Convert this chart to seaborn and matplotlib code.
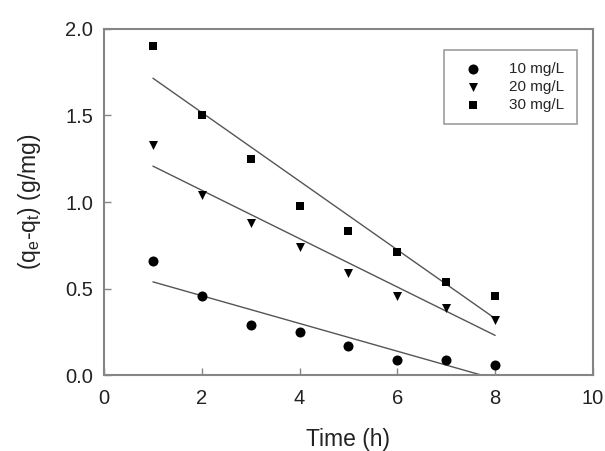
import numpy as np
import pandas as pd
import matplotlib.pyplot as plt
import seaborn as sns

# ===================== Data =====================
time_h = [1, 2, 3, 4, 5, 6, 7, 8]
q_10 = [0.66, 0.46, 0.29, 0.25, 0.17, 0.09, 0.09, 0.06]
q_20 = [1.33, 1.04, 0.88, 0.74, 0.59, 0.46, 0.39, 0.32]
q_30 = [1.90, 1.50, 1.25, 0.98, 0.83, 0.71, 0.54, 0.46]
series_labels = ['10 mg/L', '20 mg/L', '30 mg/L']
series_markers = ['o', 'v', 's']
marker_area = [52, 42, 38]

x_ticks = [0, 2, 4, 6, 8, 10]
y_ticks = [0.0, 0.5, 1.0, 1.5, 2.0]

# ===================== Style =====================
sns.set_style('ticks')
plt.rcParams['font.family'] = ['Liberation Sans', 'DejaVu Sans']
plt.rcParams['mathtext.fontset'] = 'custom'
plt.rcParams['mathtext.rm'] = 'Liberation Sans'
plt.rcParams['mathtext.it'] = 'Liberation Sans'

fig = plt.figure(figsize=(6.05, 4.51), dpi=100)
ax = fig.add_axes([0.172, 0.168, 0.808, 0.768])

spine_color = '#858585'
for q, lab, mk, sz in zip([q_10, q_20, q_30], series_labels, series_markers, marker_area):
    d = pd.DataFrame({'t': time_h, 'q': q})
    # linear fit line
    sns.regplot(data=d, x='t', y='q', ci=None, scatter=False, ax=ax,
                line_kws=dict(color='#555555', linewidth=1.0), truncate=True)
    sns.scatterplot(data=d, x='t', y='q', marker=mk, color='black', s=sz,
                    edgecolor='black', linewidth=0, ax=ax, label=lab, zorder=5)

ax.set_xlim(0, 10)
ax.set_ylim(0, 2.0)
ax.set_xticks(x_ticks)
ax.set_yticks(y_ticks)
ax.set_xticklabels([f"{v:g}" for v in x_ticks])
ax.set_yticklabels([f"{v:.1f}" for v in y_ticks])

for spine in ax.spines.values():
    spine.set_visible(True)
    spine.set_color(spine_color)
    spine.set_linewidth(1.5)
ax.tick_params(axis='both', direction='in', length=5, width=1.0,
               color=spine_color, labelsize=14.5, labelcolor='#222222')
ax.tick_params(axis='x', pad=10)
ax.tick_params(axis='y', pad=8)

ax.set_xlabel('Time (h)', fontsize=16.5, labelpad=14, color='#222222')
ax.set_ylabel('(q$_e$-q$_t$) (g/mg)', fontsize=16.5, labelpad=16, color='#222222')

leg = ax.legend(loc='upper right', bbox_to_anchor=(0.967, 0.939), fontsize=11,
                frameon=True, fancybox=False, borderpad=0.8, handletextpad=1.3,
                labelspacing=0.25, markerscale=1.0, handlelength=2.2,
                borderaxespad=0)
leg.get_frame().set_edgecolor(spine_color)
leg.get_frame().set_linewidth(1.2)

fig.savefig('out.png', dpi=100, facecolor='white')
